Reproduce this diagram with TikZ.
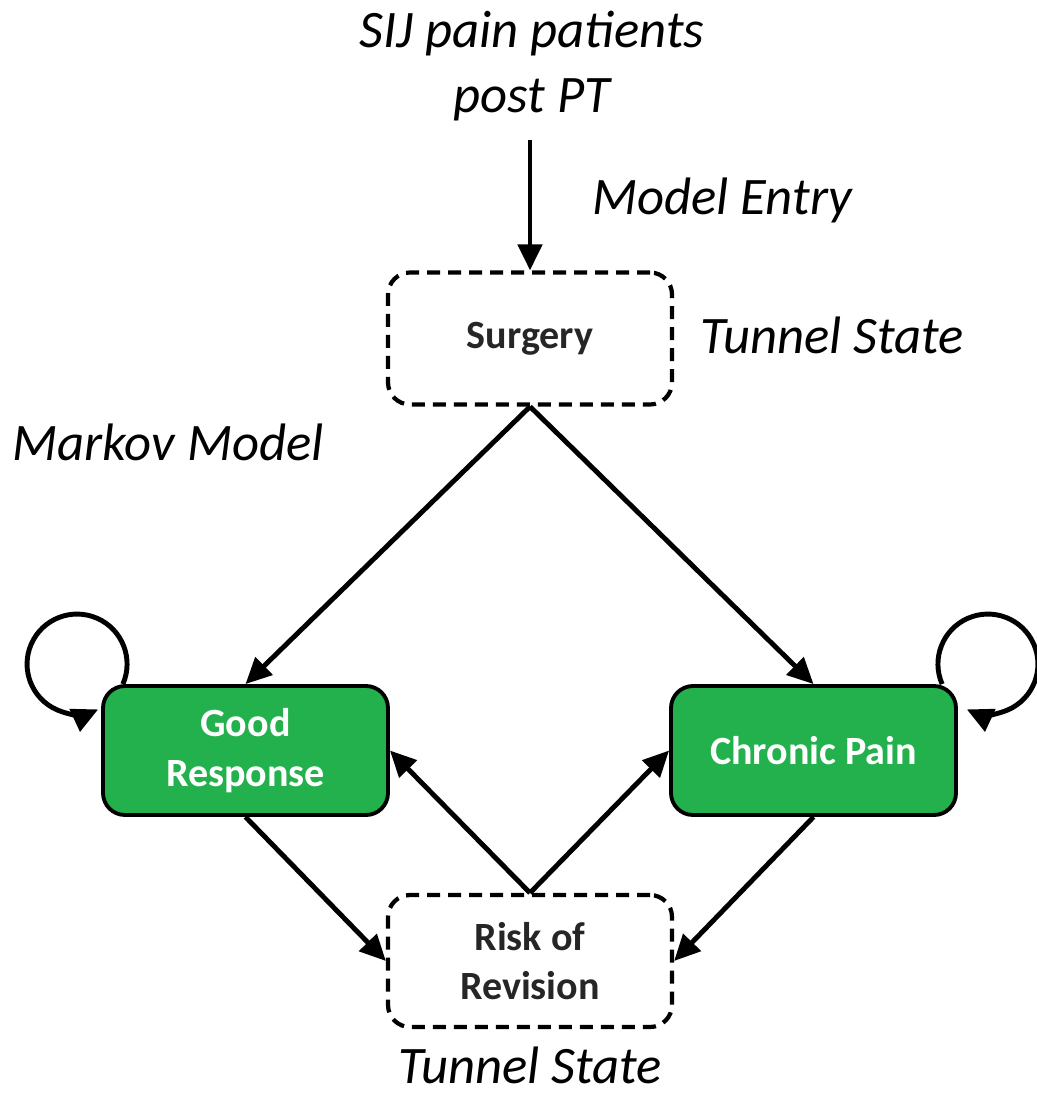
\documentclass[tikz,border=0pt]{standalone}
\usepackage{fontspec}
\setmainfont{Carlito}
\usetikzlibrary{arrows.meta}
\definecolor{stategreen}{RGB}{35,177,77}

\begin{document}
\begin{tikzpicture}[
        arr/.style={-{Triangle[length=2.6mm,width=2.4mm]}, line width=1.4pt},
        tunnel/.style={draw, dash pattern=on 1.3mm off 0.8mm, line width=1.2pt, rounded corners=2.2mm,
            minimum width=2.84cm, minimum height=1.32cm, align=center,
            font=\fontsize{11.4}{14}\selectfont\bfseries, text=black!85},
        markov/.style={draw, fill=stategreen, line width=1.1pt, rounded corners=2.2mm,
            minimum width=2.85cm, minimum height=1.29cm, align=center,
            font=\fontsize{11.4}{14}\selectfont\bfseries, text=white},
        lbl/.style={font=\fontsize{15}{18.4}\selectfont\itshape, align=center}
    ]
        \useasboundingbox (0,0) rectangle (10.37,-10.97);

        \node[lbl] (entry) at (5.32,-0.66) {SIJ pain patients\\post PT};
        \node[lbl] (entrylbl) at (7.22,-2.0) {Model Entry};
        \node[tunnel] (surg) at (5.30,-3.385) {Surgery};
        \node[lbl] (tunnelup) at (8.32,-3.35) {Tunnel State};
        \node[lbl] (markovlbl) at (1.68,-4.42) {Markov Model};
        \node[markov] (good) at (2.455,-7.505) {Good\\Response};
        \node[markov] (chron) at (8.135,-7.505) {Chronic Pain};
        \node[tunnel] (risk) at (5.30,-9.61) {Risk of\\Revision};
        \node[lbl] (tunneldown) at (5.30,-10.65) {Tunnel State};

        \draw[arr, shorten <=2pt] (surg.north |- entry.south) -- (surg.north);

        \draw[arr] (surg.south) -- (good.north);
        \draw[arr] (surg.south) -- (chron.north);
        \draw[arr] (risk.north) -- (good.east);
        \draw[arr] (risk.north) -- (chron.west);
        \draw[arr] (good.south) -- (risk.west);
        \draw[arr] (chron.south) -- (risk.east);

        \draw[arr] ([shift={(-0.24,0.20)}]good.north west) ++(-23.6:0.5) arc[start angle=-23.6, end angle=295, radius=0.5];
        \draw[arr] ([shift={(0.30,0.20)}]chron.north east) ++(203.6:0.5) arc[start angle=203.6, end angle=-115, radius=0.5];

    \end{tikzpicture}
\end{document}
